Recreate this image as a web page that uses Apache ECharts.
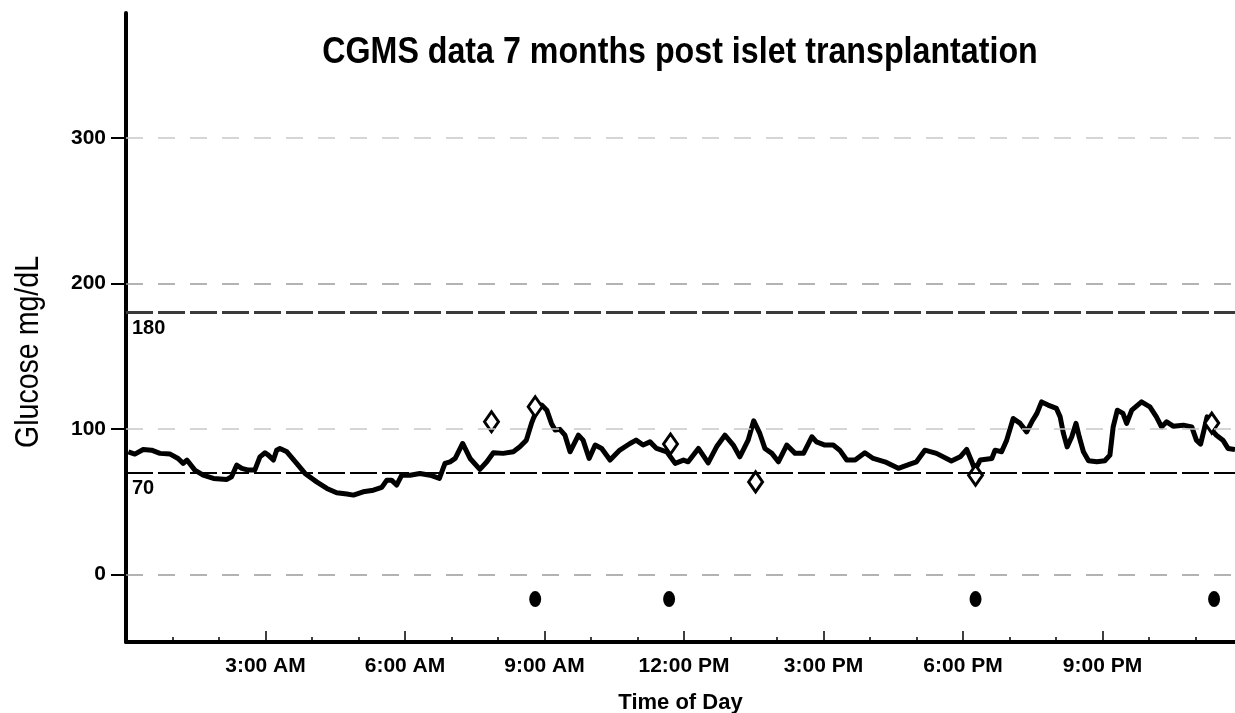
<!DOCTYPE html>
<html>
<head>
<meta charset="utf-8">
<title>CGMS data 7 months post islet transplantation</title>
<script src="https://cdn.jsdelivr.net/npm/echarts@6/dist/echarts.min.js"></script>
<style>
  html, body { margin: 0; padding: 0; background: #fff; }
  #chart { width: 1235px; height: 713px; }
</style>
</head>
<body>
<div id="chart"></div>
<script>
// time of day in hours since midnight, glucose in mg/dL
var sensorHours = [
  0.05, 0.19, 0.37, 0.55, 0.73, 0.95, 1.12, 1.23, 1.31, 1.48, 1.66, 1.88, 2.17, 2.27, 2.38, 2.49,
  2.63, 2.77, 2.88, 2.99, 3.06, 3.17, 3.24, 3.31, 3.46, 3.67, 3.85, 4.10, 4.32, 4.53, 4.75, 4.89,
  5.10, 5.32, 5.50, 5.61, 5.71, 5.82, 5.93, 6.11, 6.32, 6.54, 6.74, 6.86, 6.97, 7.08, 7.24, 7.40,
  7.61, 7.76, 7.90, 8.11, 8.33, 8.47, 8.61, 8.72, 8.83, 8.94, 9.05, 9.15, 9.23, 9.33, 9.44, 9.55,
  9.73, 9.83, 9.96, 10.09, 10.23, 10.41, 10.62, 10.84, 10.97, 11.12, 11.27, 11.41, 11.63, 11.81, 11.99, 12.09,
  12.31, 12.52, 12.70, 12.88, 13.06, 13.20, 13.38, 13.50, 13.63, 13.74, 13.89, 14.03, 14.21, 14.39, 14.57, 14.75,
  14.85, 15.03, 15.21, 15.35, 15.50, 15.68, 15.89, 16.07, 16.32, 16.61, 16.86, 17.00, 17.18, 17.43, 17.75, 17.94,
  18.08, 18.19, 18.26, 18.37, 18.62, 18.69, 18.83, 18.94, 19.08, 19.23, 19.37, 19.48, 19.59, 19.69, 19.83, 20.01,
  20.09, 20.16, 20.24, 20.34, 20.43, 20.50, 20.59, 20.70, 20.88, 21.05, 21.16, 21.23, 21.32, 21.44, 21.52, 21.63,
  21.84, 22.02, 22.16, 22.27, 22.38, 22.52, 22.74, 22.92, 23.02, 23.11, 23.20, 23.25, 23.35, 23.45, 23.59, 23.70,
  23.85
];
var sensorGlucose = [
  84.3, 82.7, 85.9, 85.4, 83.2, 82.7, 79.7, 76.3, 78.6, 71.7, 68.2, 66.0, 65.3, 67.1, 75.1, 72.9,
  71.7, 71.7, 80.8, 83.6, 82.0, 78.6, 85.4, 86.6, 84.3, 76.3, 69.4, 63.6, 59.1, 56.1, 55.2, 54.5,
  56.8, 57.9, 59.8, 64.8, 64.8, 61.4, 68.2, 68.2, 69.4, 68.2, 66.0, 76.3, 77.4, 79.7, 90.0, 79.7,
  72.2, 77.4, 83.6, 83.2, 84.3, 87.7, 92.3, 103.8, 112.9, 116.4, 112.9, 103.8, 99.2, 99.7, 95.7, 84.3,
  95.7, 92.3, 79.7, 88.9, 86.6, 78.6, 85.5, 90.0, 92.3, 88.9, 91.1, 86.6, 84.3, 76.3, 78.6, 77.4,
  86.6, 76.7, 87.7, 95.7, 88.9, 80.8, 92.3, 105.6, 96.9, 86.6, 83.2, 77.4, 88.9, 83.2, 83.2, 94.6,
  91.1, 88.9, 88.9, 85.4, 78.6, 78.6, 83.6, 79.7, 77.4, 72.9, 75.8, 77.4, 85.4, 83.2, 77.9, 80.8,
  85.9, 77.4, 71.7, 78.6, 79.7, 85.4, 84.3, 92.3, 107.2, 103.8, 98.0, 104.9, 110.7, 118.6, 116.4, 114.1,
  108.3, 96.9, 87.7, 94.6, 103.8, 94.6, 84.3, 78.1, 77.4, 78.1, 82.0, 101.4, 112.9, 110.7, 103.8, 112.9,
  118.6, 115.2, 108.3, 101.4, 104.9, 101.9, 102.6, 101.4, 92.3, 89.6, 101.4, 108.3, 99.2, 95.7, 92.3, 86.6,
  85.9
];

// meter readings (open diamonds)
var meterHours = [7.86, 8.80, 11.71, 13.54, 18.27, 23.35];
var meterGlucose = [104.9, 115.2, 89.6, 63.6, 68.2, 104.0];

// event markers below zero (filled dots)
var eventHours = [8.80, 11.68, 18.27, 23.40];
var eventLevel = [-17, -17, -17, -17];

var yTicks = [0, 100, 200, 300];
var majorHours = [3, 6, 9, 12, 15, 18, 21];
var minorHours = [1, 2, 4, 5, 7, 8, 10, 11, 13, 14, 16, 17, 19, 20, 22, 23];
var hourLabels = { 3: "3:00 AM", 6: "6:00 AM", 9: "9:00 AM", 12: "12:00 PM", 15: "3:00 PM", 18: "6:00 PM", 21: "9:00 PM" };
var gridValues = [300, 200, 100, 0];
var targetHigh = 180;
var targetLow = 70;

var FONT = "'Liberation Sans', Arial, Helvetica, sans-serif";

function zip(xs, ys) {
  var out = [];
  for (var i = 0; i < xs.length; i++) out.push([xs[i], ys[i]]);
  return out;
}

var refLines = gridValues.map(function (v) {
  var c = (v === 200 || v === 0) ? "#9a9a9a" : "#c8c8c8";
  return { yAxis: v, lineStyle: { color: c, width: 1.5, type: [17, 15] }, label: { show: false } };
});
refLines.push({
  yAxis: targetHigh,
  lineStyle: { color: "#3a3a3a", width: 3, type: [27, 5] },
  label: { show: true, position: "insideStartBottom", formatter: String(targetHigh), distance: 6,
    color: "#000", fontFamily: FONT, fontWeight: "bold", fontSize: 20 }
});
refLines.push({
  yAxis: targetLow,
  lineStyle: { color: "#000", width: 2, type: [27, 5] },
  label: { show: true, position: "insideStartBottom", formatter: String(targetLow), distance: 6,
    color: "#000", fontFamily: FONT, fontWeight: "bold", fontSize: 20 }
});

var chart = echarts.init(document.getElementById("chart"));
var option = {
  animation: false,
  backgroundColor: "#fff",
  // the original lettering is a narrow face, so the big texts are squeezed a bit
  graphic: [{
    type: "text",
    x: 680,
    y: 53,
    scaleX: 0.87,
    style: {
      text: "CGMS data 7 months post islet transplantation",
      font: "bold 37px " + FONT,
      fill: "#000",
      align: "center",
      verticalAlign: "middle"
    }
  }, {
    type: "text",
    x: 29,
    y: 352,
    rotation: Math.PI / 2,
    scaleX: 0.84,
    style: {
      text: "Glucose mg/dL",
      font: "normal 34px " + FONT,
      fill: "#000",
      align: "center",
      verticalAlign: "middle"
    }
  }],
  grid: { left: 126, right: 0, top: 13, bottom: 71, outerBoundsMode: "none" },
  xAxis: [{
    type: "value",
    min: 0,
    max: 23.85,
    name: "Time of Day",
    nameLocation: "middle",
    nameGap: 50,
    nameTextStyle: { fontFamily: FONT, fontWeight: "bold", fontSize: 22, color: "#000" },
    axisLine: { show: true, onZero: false, lineStyle: { color: "#000", width: 4 } },
    axisTick: { show: true, inside: true, length: 5, customValues: minorHours, lineStyle: { color: "#000", width: 1.5 } },
    axisLabel: {
      show: true, customValues: majorHours, margin: 14,
      formatter: function (v) { return hourLabels[v] || ""; },
      fontFamily: FONT, fontWeight: "bold", fontSize: 21, color: "#000"
    },
    splitLine: { show: false }
  }, {
    type: "value",
    min: 0,
    max: 23.85,
    position: "bottom",
    axisLine: { show: false, onZero: false },
    axisTick: { show: true, inside: true, length: 11, customValues: majorHours, lineStyle: { color: "#000", width: 1.5 } },
    axisLabel: { show: false },
    splitLine: { show: false }
  }],
  yAxis: {
    type: "value",
    min: -46.5,
    max: 386,
    axisLine: { show: true, onZero: false, lineStyle: { color: "#000", width: 4 } },
    axisTick: { show: true, length: 15, customValues: yTicks, lineStyle: { color: "#000", width: 2 } },
    axisLabel: {
      show: true, customValues: yTicks, margin: 20,
      fontFamily: FONT, fontWeight: "bold", fontSize: 21, color: "#000"
    },
    splitLine: { show: false }
  },
  series: [
    {
      name: "refs",
      type: "line",
      data: [],
      z: 1,
      markLine: { silent: true, symbol: ["none", "none"], data: refLines }
    },
    {
      name: "CGMS",
      type: "line",
      data: zip(sensorHours, sensorGlucose),
      showSymbol: false,
      z: 3,
      lineStyle: { color: "#000", width: 5, join: "round" }
    },
    {
      name: "Meter",
      type: "scatter",
      data: zip(meterHours, meterGlucose),
      symbol: "diamond",
      symbolSize: [14, 20],
      z: 4,
      itemStyle: { color: "#fff", borderColor: "#000", borderWidth: 3, opacity: 1 }
    },
    {
      name: "Events",
      type: "scatter",
      data: zip(eventHours, eventLevel),
      symbol: "circle",
      symbolSize: [12, 16],
      z: 4,
      itemStyle: { color: "#000", opacity: 1 }
    }
  ]
};
chart.setOption(option);
</script>
</body>
</html>
